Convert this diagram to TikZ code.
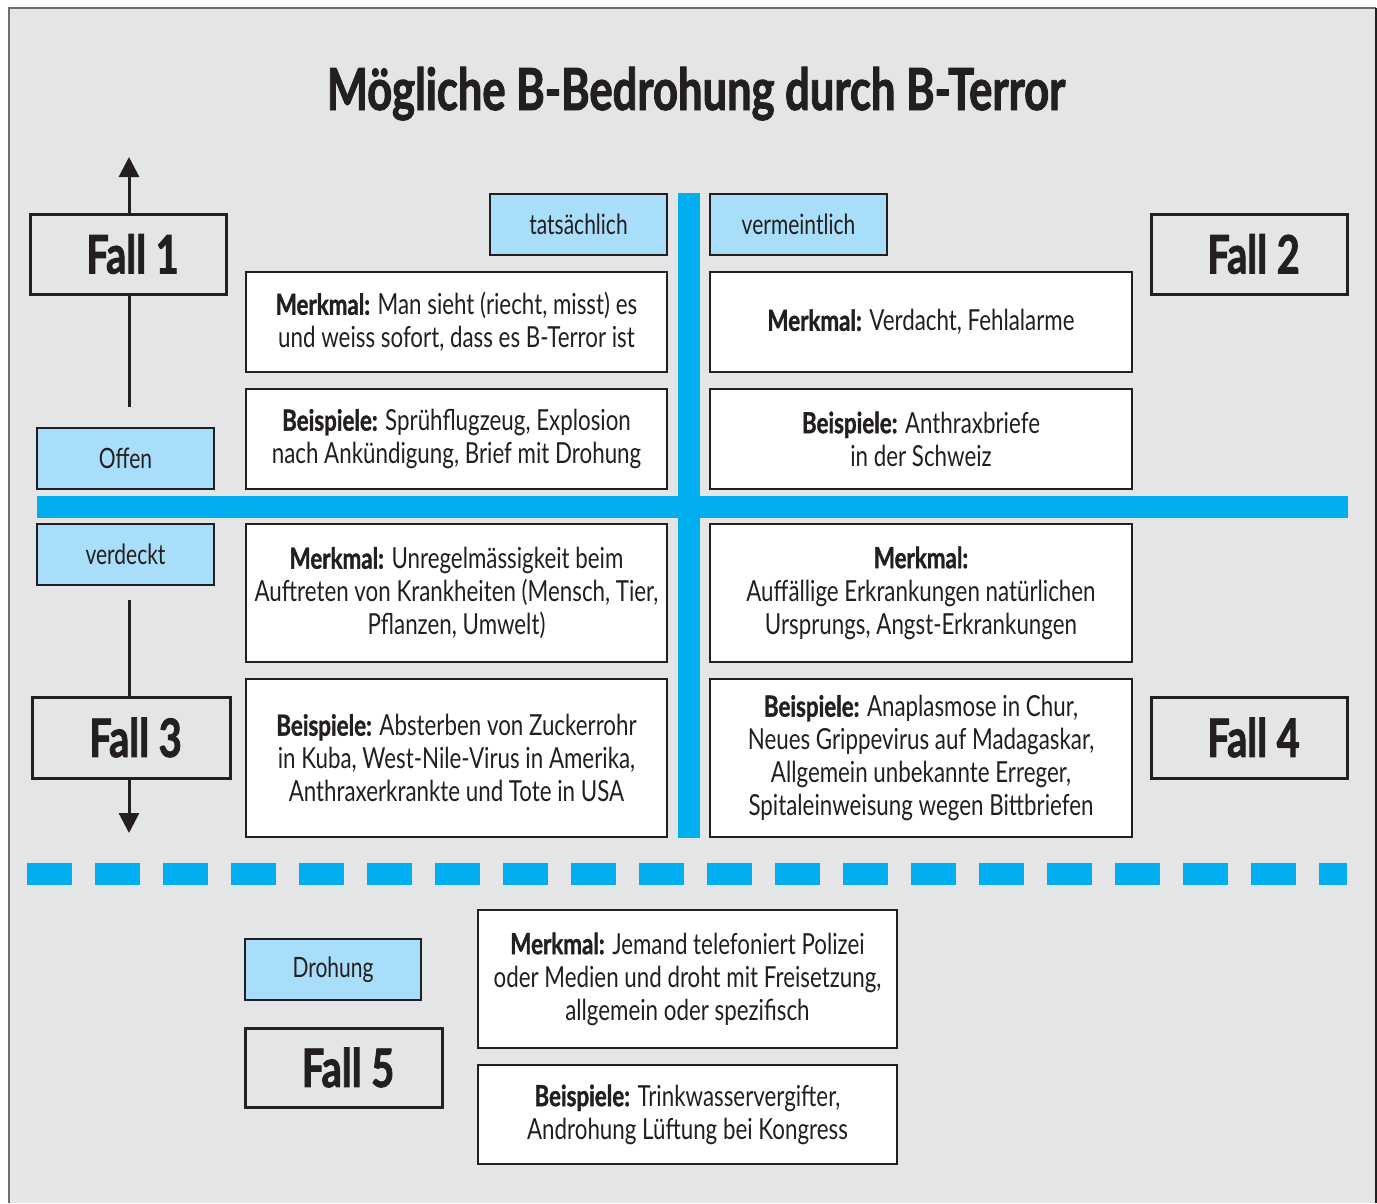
\documentclass[tikz,border=0pt]{standalone}
\usepackage{fontspec}
\setmainfont{Lato}[FakeStretch=0.75]
\newfontfamily\bodyfont{Lato}[FakeStretch=0.77, BoldFeatures={FakeBold=1.2}]
\newfontfamily\heavyfont{Lato}[FakeStretch=0.75, BoldFeatures={FakeBold=1.6}]
\usetikzlibrary{arrows.meta}
\definecolor{bg}{HTML}{E4E5E7}
\definecolor{cyanbar}{HTML}{00AEEF}
\definecolor{lblue}{HTML}{A8DEF9}
\definecolor{ink}{HTML}{231F20}
\definecolor{framegray}{HTML}{6E6E70}
\newcommand{\falltext}[1]{\hspace*{9pt}#1}
\begin{document}
\begin{tikzpicture}[x=1pt,y=-1pt,
  wbox/.style={draw=ink, line width=2.5pt, fill=white, align=center, text=ink,
    font=\bodyfont\fontsize{29}{33}\selectfont, inner sep=0pt, minimum width=421pt},
  lbox/.style={draw=ink, line width=2.5pt, fill=lblue, text=ink,
    font=\fontsize{28}{30}\selectfont, inner sep=0pt, minimum width=177pt, minimum height=61pt},
  fallbox/.style={draw=ink, line width=3pt, fill=bg, text=ink,
    font=\heavyfont\fontsize{53}{55}\selectfont\bfseries, inner sep=0pt, minimum width=197pt, minimum height=80pt},
  conn/.style={draw=ink, line width=3pt},
  arr/.style={conn, -{Triangle[width=20pt,length=20pt]}}]
\useasboundingbox (0,0) rectangle (1377,1203);
\fill[white] (0,0) rectangle (1377,1203);
\fill[bg] (9,8) rectangle (1376,1203);
\draw[framegray, line width=1.5pt] (9,1203) -- (9,8) -- (1376,8);
\draw[ink, line width=2pt] (1376,8) -- (1376,1203);

% title
\node[anchor=base, text=ink, font=\heavyfont\fontsize{58}{60}\selectfont\bfseries] (title) at (696,110) {Mögliche B-Bedrohung durch B-Terror};

% bars
\fill[cyanbar] (678,193) rectangle (700,838);
\fill[cyanbar] (37,496) rectangle (1348,518);
\draw[cyanbar, line width=22pt, dash pattern=on 45pt off 23pt] (27,874) -- (1347,874);

% label boxes
\node[lbox] (tat) at (578.5,224.5) {tatsächlich};
\node[lbox] (verm) at (798.5,224.5) {vermeintlich};
\node[lbox] (offen) at (125.5,458.5) {Offen};
\node[lbox] (verd) at (125.5,554.5) {verdeckt};
\node[lbox, minimum width=176pt] (droh) at (333,969.5) {Drohung};

% Fall boxes
\node[fallbox, minimum width=196pt] (f1) at (128,254) {\falltext{Fall 1}};
\node[fallbox, minimum width=196pt] (f2) at (1249,254) {\falltext{Fall 2}};
\node[fallbox, minimum width=198pt, minimum height=81pt] (f3) at (131,737.5) {\falltext{Fall 3}};
\node[fallbox, minimum width=196pt, minimum height=81pt] (f4) at (1249,737.5) {\falltext{Fall 4}};
\node[fallbox, minimum height=79pt] (f5) at (343.5,1067.5) {\falltext{Fall 5}};

% white boxes
\node[wbox, minimum height=100pt] (tlm) at (456.5,322) {\textbf{Merkmal:} Man sieht (riecht, misst) es\\und weiss sofort, dass es B-Terror ist};
\node[wbox, minimum height=100pt] (tlb) at (456.5,439) {\textbf{Beispiele:} Sprühflugzeug, Explosion\\nach Ankündigung, Brief mit Drohung};
\node[wbox, minimum width=422pt, minimum height=100pt] (trm) at (921,322) {\textbf{Merkmal:} Verdacht, Fehlalarme};
\node[wbox, minimum width=422pt, minimum height=100pt] (trb) at (921,439) {\textbf{Beispiele:} Anthraxbriefe\\in der Schweiz};
\node[wbox, minimum height=138pt] (blm) at (456.5,593) {\textbf{Merkmal:} Unregelmässigkeit beim\\Auftreten von Krankheiten (Mensch, Tier,\\Pflanzen, Umwelt)};
\node[wbox, minimum height=158pt] (blb) at (456.5,758) {\textbf{Beispiele:} Absterben von Zuckerrohr\\in Kuba, West-Nile-Virus in Amerika,\\Anthraxerkrankte und Tote in USA};
\node[wbox, minimum width=422pt, minimum height=138pt] (brm) at (921,593) {\textbf{Merkmal:}\\Auffällige Erkrankungen natürlichen\\Ursprungs, Angst-Erkrankungen};
\node[wbox, minimum width=422pt, minimum height=158pt] (brb) at (921,758) {\textbf{Beispiele:} Anaplasmose in Chur,\\Neues Grippevirus auf Madagaskar,\\Allgemein unbekannte Erreger,\\Spitaleinweisung wegen Bittbriefen};
\node[wbox, minimum width=419pt, minimum height=138pt] (f5m) at (687.5,979) {\textbf{Merkmal:} Jemand telefoniert Polizei\\oder Medien und droht mit Freisetzung,\\allgemein oder spezifisch};
\node[wbox, minimum width=419pt, minimum height=99pt] (f5b) at (687.5,1114.5) {\textbf{Beispiele:} Trinkwasservergifter,\\Androhung Lüftung bei Kongress};

% connectors
\coordinate (uptip) at (129,157);
\coordinate (upend) at (129,407);
\coordinate (dnstart) at (129,600);
\coordinate (dntip) at (129,833);
\draw[arr] (uptip |- f1.north) -- (uptip);
\draw[conn] (upend |- f1.south) -- (upend);
\draw[conn] (dnstart) -- (dnstart |- f3.north);
\draw[arr] (dntip |- f3.south) -- (dntip);
\end{tikzpicture}
\end{document}
